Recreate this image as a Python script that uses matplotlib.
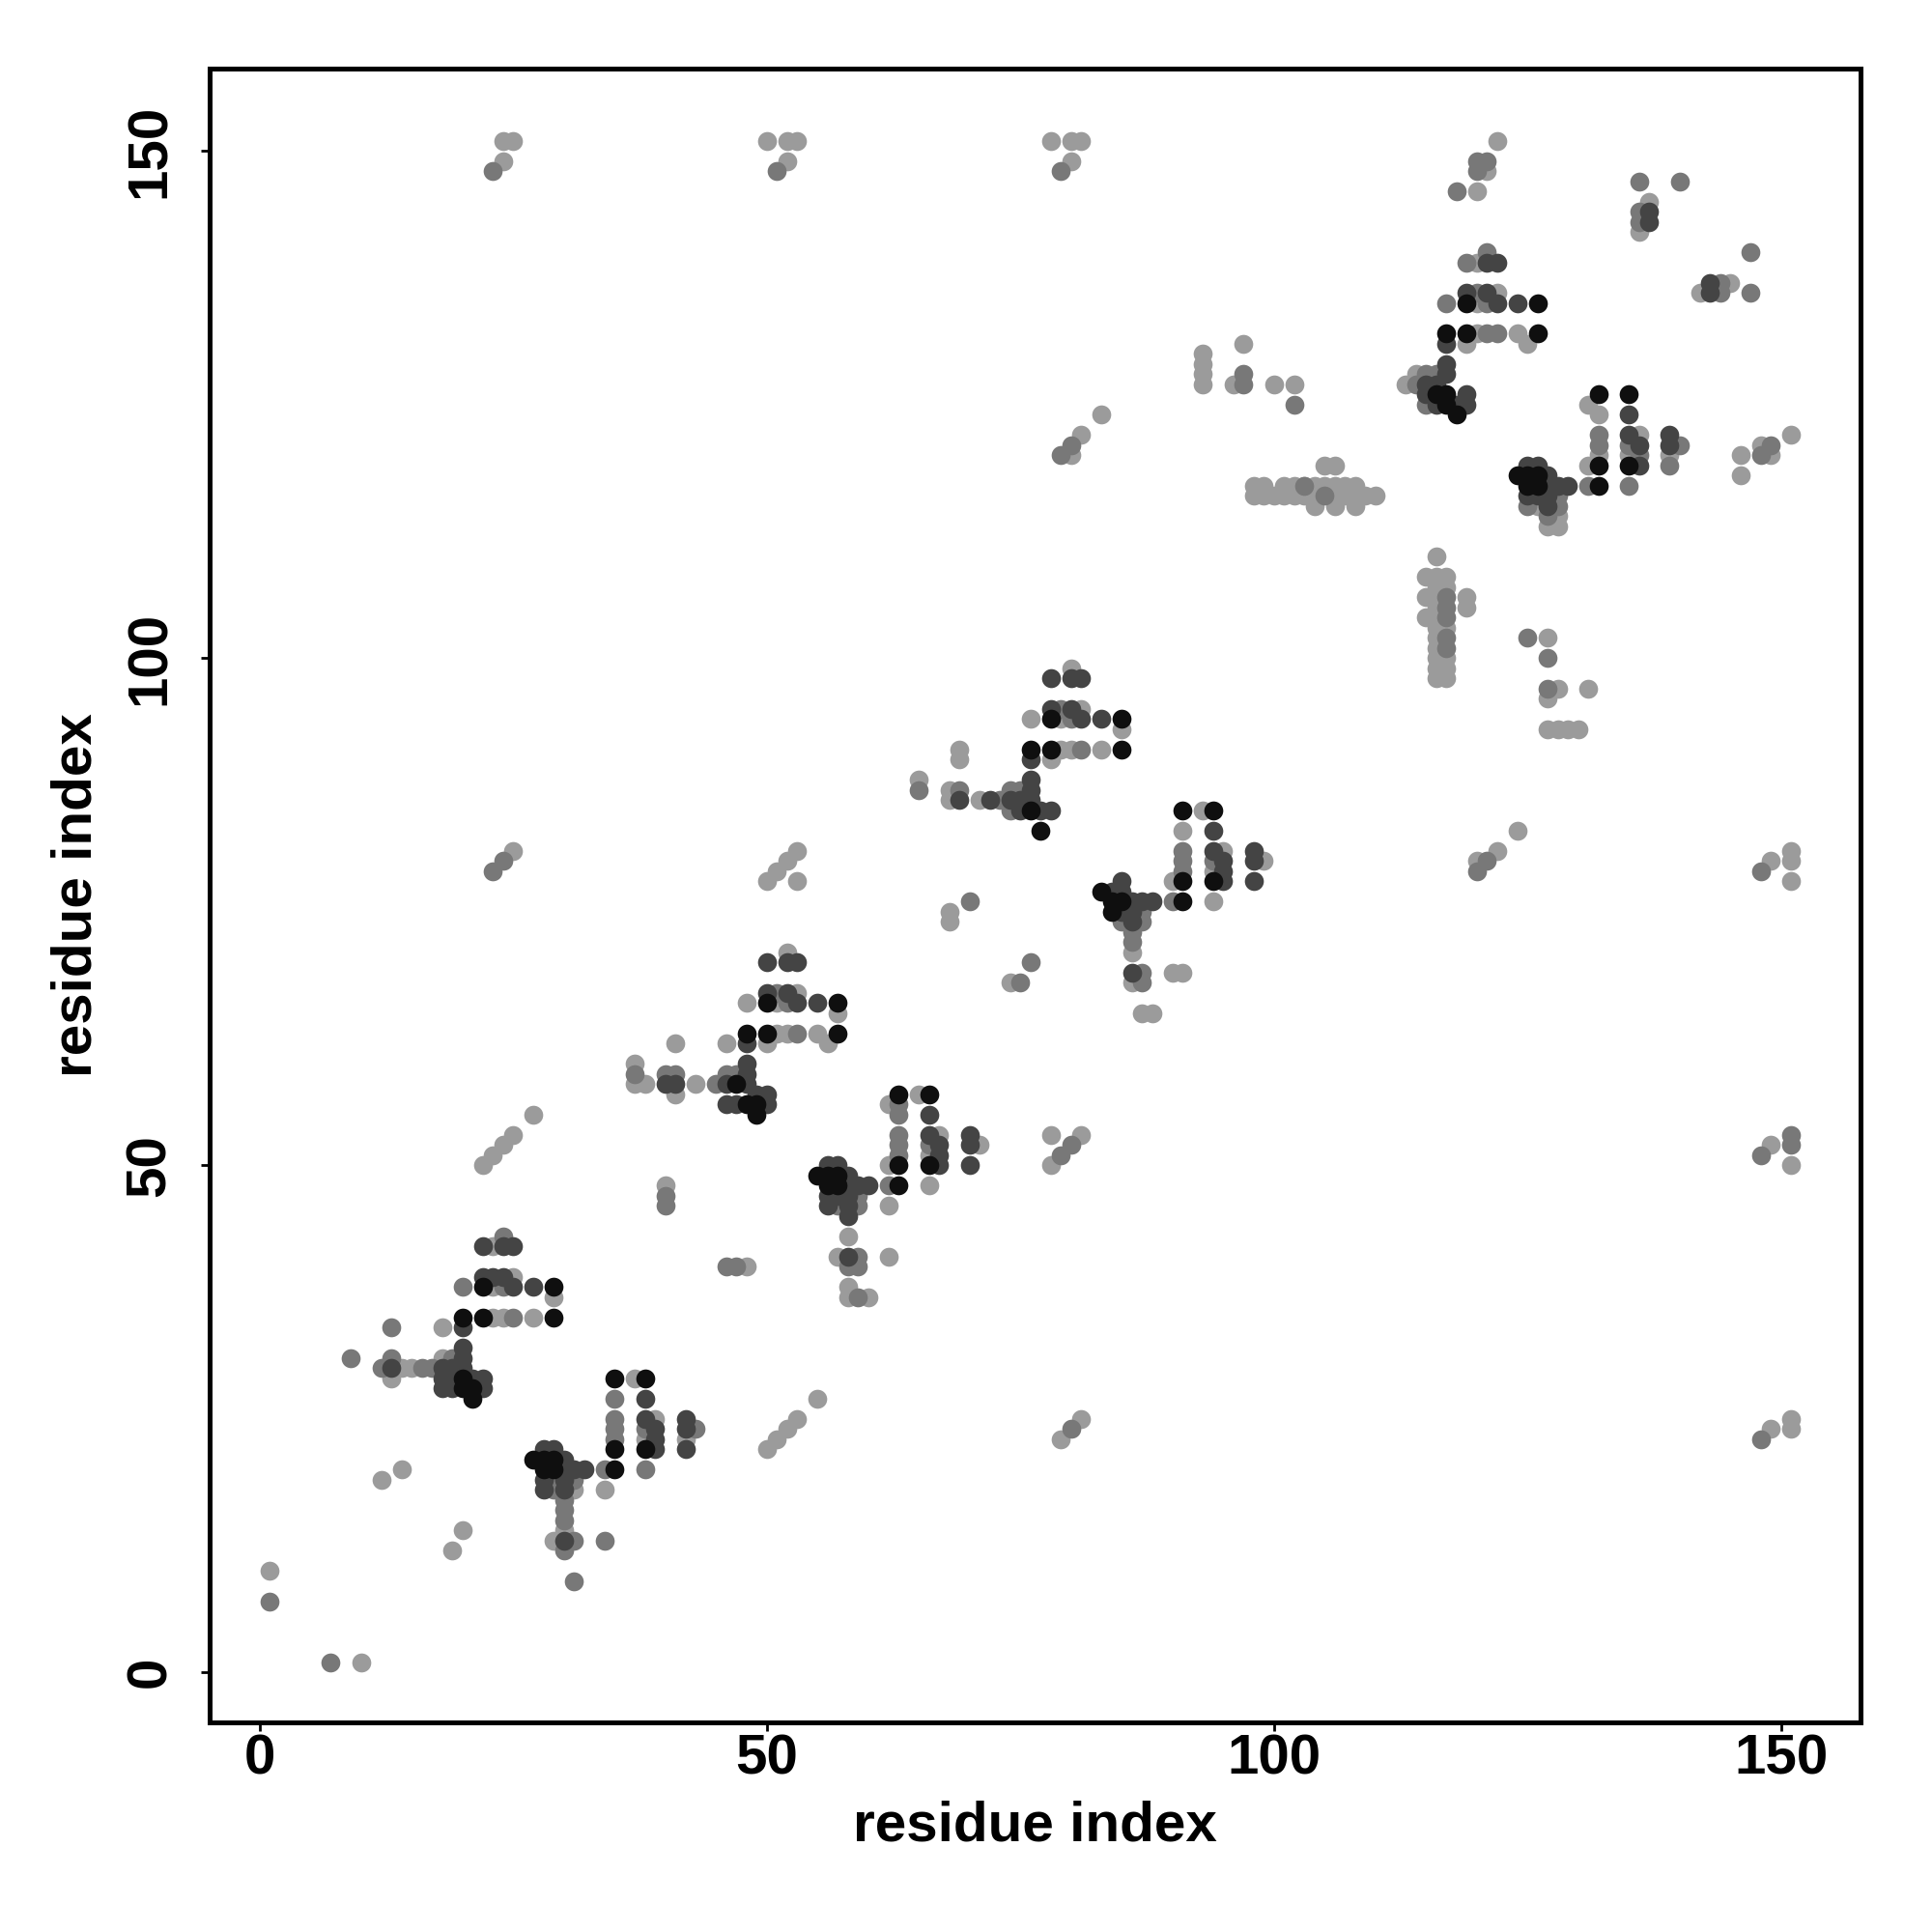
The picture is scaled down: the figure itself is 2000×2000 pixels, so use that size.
import matplotlib
matplotlib.use("Agg")
import matplotlib.pyplot as plt

plt.rcParams['font.family'] = ['Liberation Sans', 'DejaVu Sans']

# ---- data: contact pairs (residue i, residue j), grouped by grey level ----
black_x = [22,29,20,22,29,20,20,21,21,
           35,38,35,38,35,27,28,29,28,29,
           50,57,48,50,57,47,48,49,49,
           63,66,63,66,63,55,56,57,56,57,
           78,85,76,78,85,76,77,
           91,94,91,94,91,83,84,85,84,
           119,126,117,119,126,116,117,117,118,
           132,135,132,135,132,124,125,126,125,126]
black_y = [38,38,35,35,35,29,28,28,27,
           29,29,22,22,20,21,21,21,20,20,
           66,66,63,63,63,58,56,56,55,
           57,57,50,50,48,49,49,49,48,48,
           94,94,91,91,91,85,83,
           85,85,78,78,76,77,76,76,75,
           135,135,132,132,132,126,126,125,124,
           126,126,119,119,117,118,118,118,117,117]

dark_x = [22,24,25,22,23,24,25,27,20,20,20,13,18,19,20,18,19,21,22,18,19,22,
          38,38,39,39,39,42,42,42,28,29,30,30,31,32,28,30,28,30,30,
          50,52,53,50,52,53,55,48,40,41,48,48,46,48,49,50,46,47,50,
          66,66,67,67,67,70,70,70,56,57,58,58,59,60,56,57,58,56,58,58,58,
          78,80,81,78,80,81,83,76,69,72,76,76,74,75,76,75,77,78,
          94,94,95,95,95,98,98,98,85,84,85,86,87,88,85,86,86,86,
          137,137,143,143,121,122,119,121,122,124,117,117,117,115,116,115,119,116,118,119,
          135,135,136,136,139,139,125,126,127,127,128,129,125,126,127,127]
dark_y = [42,42,42,39,39,39,38,38,34,32,31,30,30,30,30,29,29,29,29,28,28,28,
          27,25,24,23,22,25,24,22,22,22,21,20,20,20,19,19,18,18,13,
          70,70,70,67,67,66,66,62,58,58,60,59,58,58,57,57,56,56,56,
          55,53,52,51,50,53,52,50,50,50,49,48,48,48,47,47,47,46,46,45,41,
          98,98,98,95,95,94,94,90,86,86,88,87,86,86,86,85,85,85,
          83,81,80,79,78,81,80,78,78,77,77,76,76,76,75,75,74,69,
          144,143,137,136,139,139,136,136,135,135,131,129,128,127,127,126,126,125,125,125,
          124,122,121,119,122,121,119,119,118,117,117,117,116,116,116,115]

medium_x = [1,7,9,13,
            24,20,24,25,19,13,12,16,17,
            35,35,35,35,38,43,34,38,34,31,29,31,29,30,30,30,31,30,
            23,24,23,51,79,80,80,79,79,80,148,148,151,151,148,120,121,
            51,52,53,37,40,41,45,46,47,40,40,46,47,
            63,63,63,63,63,66,62,59,57,59,59,58,59,59,
            79,80,81,65,69,73,74,75,74,70,75,76,
            91,91,91,94,90,87,85,87,86,86,87,87,
            97,97,102,125,127,127,
            120,121,120,118,136,140,136,136,147,144,144,147,119,121,120,117,121,121,122,115,116,114,115,
            132,132,135,136,140,139,131,135,128,125,128,127,149,148,
            117,117,117,117,117,103,105]
medium_y = [7,1,31,34,
            43,38,38,35,31,31,30,30,30,
            27,25,24,23,24,24,20,20,13,9,19,19,18,17,16,15,13,12,
            79,80,148,148,51,52,24,148,120,121,23,51,52,53,79,79,80,
            67,66,63,59,59,59,58,59,59,47,46,40,40,
            56,55,53,52,51,52,48,47,46,46,41,40,40,37,
            95,94,91,87,87,86,87,87,85,76,68,70,
            81,80,79,80,76,75,74,74,73,72,69,68,
            128,127,125,102,100,97,
            149,149,148,146,147,147,144,143,140,137,136,136,139,140,136,135,135,132,132,128,128,127,125,
            122,121,121,120,121,119,117,117,116,115,115,114,121,120,
            106,105,104,102,101,117,116]

light_x = [1,10,19,20,12,14,18,
           23,25,23,29,23,24,27,18,13,14,15,
           37,38,39,42,34,31,30,29,
           22,23,24,25,27,25,24,24,25,50,51,52,53,55,50,51,52,53,53,50,52,53,52,
           78,78,81,79,81,78,80,81,80,80,81,83,149,151,151,149,151,149,151,151,151,120,122,124,
           52,53,48,51,57,51,52,55,46,50,56,41,37,37,38,41,43,40,48,
           65,62,62,67,66,71,66,62,58,57,62,58,58,60,74,
           80,81,76,79,85,79,80,83,78,69,69,65,68,68,71,68,68,
           93,91,90,95,94,99,94,86,86,90,91,87,88,
           93,93,93,93,97,96,100,102,
           98,99,101,102,103,104,105,106,107,108,
           98,99,100,101,102,103,104,106,107,108,109,110,
           104,106,108,105,106,
           116,115,116,117,116,117,115,116,119,119,116,115,116,116,117,116,116,116,117,116,117,116,117,
           127,128,127,131,127,128,129,130,
           122,121,120,137,136,142,145,120,122,120,120,124,125,119,114,113,
           131,132,132,131,136,135,139,126,128,127,128,151,148,149,146,146]
light_y = [10,1,12,14,19,20,34,
           42,39,38,37,35,35,35,31,29,30,30,
           29,23,25,23,18,18,14,13,
           50,51,52,53,55,81,149,151,151,22,23,24,25,27,78,79,80,81,78,151,151,151,149,
           50,53,53,23,25,151,151,151,149,120,122,124,24,24,25,52,50,80,81,80,78,80,81,83,
           71,67,66,66,65,63,63,63,62,62,62,62,60,58,58,57,58,48,40,
           57,56,50,53,51,52,48,46,43,41,41,38,37,37,68,
           99,95,94,94,93,91,91,91,90,91,90,88,87,86,86,75,74,
           85,83,78,81,79,80,76,71,68,69,69,65,65,
           130,129,128,127,131,127,127,127,
           117,117,117,117,117,117,117,117,117,117,
           116,116,116,116,116,116,116,116,116,116,116,116,
           115,115,115,119,119,
           110,108,108,108,107,107,106,106,106,105,105,104,104,103,103,102,101,100,100,99,99,98,98,
           102,97,96,97,93,93,93,93,
           151,148,146,145,142,136,137,139,136,135,132,132,131,131,128,127,
           125,124,120,119,122,120,120,115,114,113,113,122,121,120,120,118]

levels = [
    (light_x, light_y, '#9b9b9b'),
    (medium_x, medium_y, '#787878'),
    (dark_x, dark_y, '#444444'),
    (black_x, black_y, '#0f0f0f'),
]

tick_vals = [0, 50, 100, 150]
tick_labels = ['0', '50', '100', '150']

fig = plt.figure(figsize=(10, 10), dpi=200)
ax = fig.add_axes([0.1085, 0.1085, 0.8545, 0.856])

for xs, ys, col in levels:
    ax.scatter(xs, ys, s=50, c=col, linewidths=0, zorder=2)

ax.set_xlim(-4.93, 157.85)
ax.set_ylim(-4.93, 158.1)

ax.set_xticks(tick_vals)
ax.set_xticklabels(tick_labels, fontsize=21, fontweight='bold')
ax.set_yticks(tick_vals)
ax.set_yticklabels(tick_labels, fontsize=21, fontweight='bold', rotation=90, va='center')

ax.tick_params(axis='both', which='major', direction='out', length=3.3, width=1.0, color='black')
ax.tick_params(axis='x', pad=1)
ax.tick_params(axis='y', pad=9)

for sp in ax.spines.values():
    sp.set_linewidth(1.8)
    sp.set_color('black')

ax.set_xlabel('residue index', fontsize=21, fontweight='bold')
ax.set_ylabel('residue index', fontsize=21, fontweight='bold')
ax.xaxis.set_label_coords(0.5, -0.0625)
ax.xaxis.label.set_verticalalignment('center')
ax.yaxis.set_label_coords(-0.0807, 0.5)
ax.yaxis.label.set_verticalalignment('center')
ax.yaxis.label.set_horizontalalignment('center')

fig.savefig('out.png', dpi=200, facecolor='white')
